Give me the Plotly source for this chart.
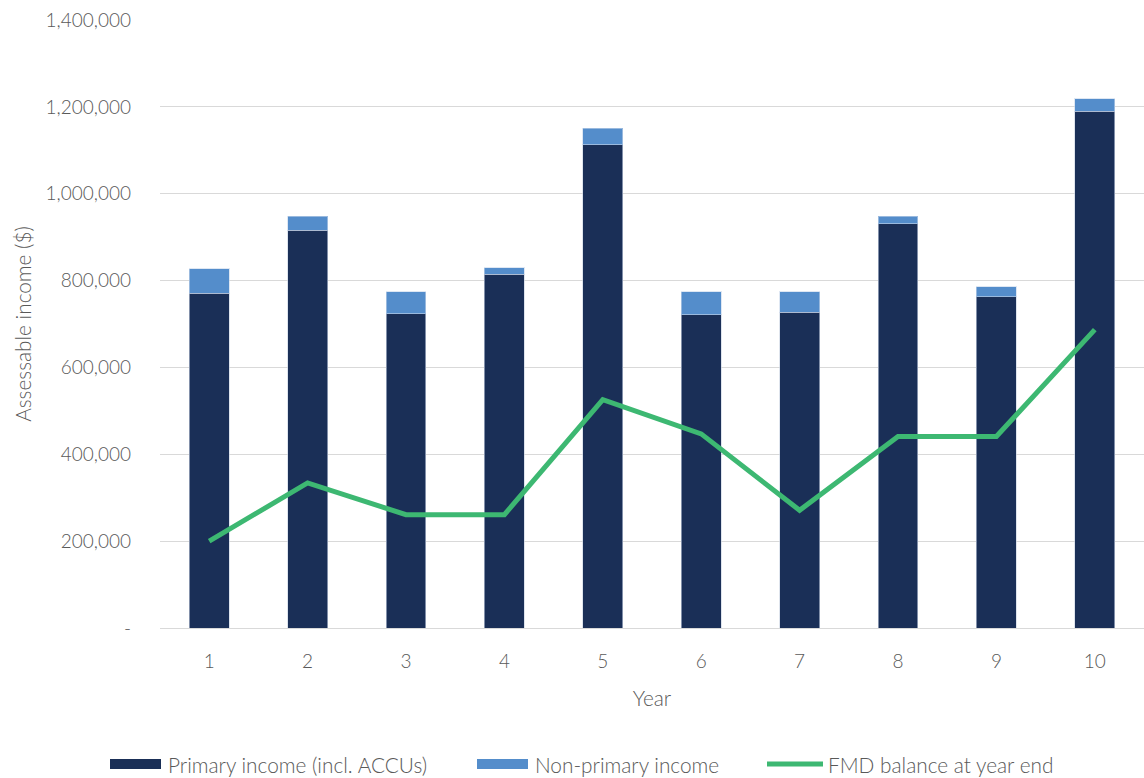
import plotly.graph_objects as go

years = ["1", "2", "3", "4", "5", "6", "7", "8", "9", "10"]
primary_income = [771000, 916000, 724000, 815000, 1113000, 721000, 727000, 931000, 763000, 1190000]
non_primary_income = [56000, 32000, 50000, 15000, 38000, 53000, 47000, 17000, 23000, 29000]
fmd_balance = [200000, 334000, 261000, 261000, 526000, 447000, 271000, 441000, 441000, 687000]

y_tick_values = [0, 200000, 400000, 600000, 800000, 1000000, 1200000, 1400000]
y_tick_labels = ["-", "200,000", "400,000", "600,000", "800,000", "1,000,000", "1,200,000", "1,400,000"]

series_names = ["Primary income (incl. ACCUs)", "Non-primary income", "FMD balance at year end"]
series_colors = ["#1a2f57", "#548dcb", "#3db872"]

TEXT = "#595959"
FONT = "Lato"
SIZE = 19
LABEL_SIZE = 20.8

W, H = 1144, 778
M_L, M_R, M_T, M_B = 160, 0, 20, 150
PLOT_W = W - M_L - M_R
PLOT_H = H - M_T - M_B


def px_x(px):
    """Page pixel x -> paper coordinate."""
    return (px - M_L) / PLOT_W


def px_y(py):
    """Page pixel y -> paper coordinate."""
    return (H - M_B - py) / PLOT_H


fig = go.Figure()
fig.add_trace(go.Bar(
    x=years, y=primary_income, name=series_names[0],
    marker=dict(color=series_colors[0], line=dict(color="rgba(200,210,225,0.6)", width=1)),
))
fig.add_trace(go.Bar(
    x=years, y=non_primary_income, name=series_names[1],
    marker=dict(color=series_colors[1], line=dict(color="rgba(200,215,235,0.6)", width=1)),
))
fig.add_trace(go.Scatter(
    x=years, y=fmd_balance, name=series_names[2], mode="lines",
    line=dict(color=series_colors[2], width=5),
))

# Legend drawn below the plot: wide swatches followed by labels
legend_y = 764
legend_items = [
    # (swatch left, swatch right, text left, kind)
    (110, 161, 166, "rect"),
    (477, 528, 533, "rect"),
    (767, 823, 826, "line"),
]
shapes = []
annotations = []
for (x0, x1, tx, kind), name, color in zip(legend_items, series_names, series_colors):
    if kind == "rect":
        shapes.append(dict(
            type="rect", xref="paper", yref="paper",
            x0=px_x(x0), x1=px_x(x1), y0=px_y(legend_y + 5), y1=px_y(legend_y - 5),
            fillcolor=color, line=dict(width=0),
        ))
    else:
        shapes.append(dict(
            type="line", xref="paper", yref="paper",
            x0=px_x(x0), x1=px_x(x1), y0=px_y(legend_y), y1=px_y(legend_y),
            line=dict(color=color, width=5),
        ))
    annotations.append(dict(
        text=name, xref="paper", yref="paper", x=px_x(tx), y=px_y(legend_y),
        xanchor="left", yanchor="middle", showarrow=False,
        font=dict(family=FONT, color=TEXT, size=LABEL_SIZE, weight=300),
    ))

fig.update_layout(
    width=W, height=H,
    margin=dict(l=M_L, r=M_R, t=M_T, b=M_B),
    barmode="stack", bargap=0.595,
    plot_bgcolor="white", paper_bgcolor="white",
    font=dict(family=FONT, color=TEXT, size=SIZE, weight=300),
    showlegend=False,
    shapes=shapes,
    annotations=annotations,
)
fig.update_xaxes(
    title=dict(text="Year", standoff=20, font=dict(size=LABEL_SIZE, color=TEXT, weight=300)),
    showgrid=False, showline=False, ticks="", ticklabelstandoff=20,
    tickfont=dict(size=SIZE, color=TEXT, weight=300),
)
fig.update_yaxes(
    range=[0, 1400000],
    tickvals=y_tick_values, ticktext=y_tick_labels,
    showgrid=True, gridcolor="#d9d9d9", gridwidth=1,
    zeroline=True, zerolinecolor="#d9d9d9", zerolinewidth=1,
    showline=False, ticks="", ticklabelstandoff=28,
    tickfont=dict(size=SIZE, color=TEXT, weight=300),
    title=dict(text="Assessable income ($)", standoff=8, font=dict(size=LABEL_SIZE, color=TEXT, weight=300)),
)

fig.write_html("out.html")
